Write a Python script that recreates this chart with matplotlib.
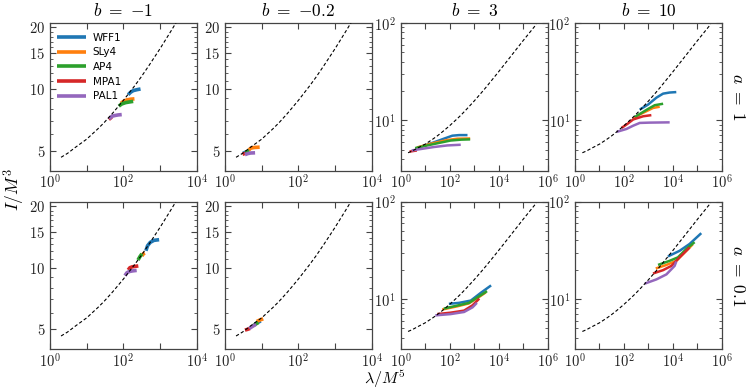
import math
import matplotlib
matplotlib.use("Agg")
import matplotlib.pyplot as plt
from matplotlib.ticker import FixedLocator, FuncFormatter, NullFormatter, NullLocator

plt.rcParams['mathtext.fontset'] = 'cm'
plt.rcParams['font.family'] = ['DejaVu Sans']

eos_names = ["WFF1", "SLy4", "AP4", "MPA1", "PAL1"]
eos_colors = ["#1f77b4", "#ff7f0e", "#2ca02c", "#d62728", "#9467bd"]
b_labels = [r"$b\ =\ {-1}$", r"$b\ =\ {-0.2}$", r"$b\ =\ 3$", r"$b\ =\ 10$"]
a_labels = [r"$a\ =\ 1$", r"$a\ =\ 0.1$"]

# GR fit curve (dashed)
lam_fit = [2, 3, 5, 10, 20, 30, 50, 100, 200, 300, 500, 1000, 2000, 3000, 5000,
           1e4, 3e4, 1e5, 3.5e5]
I_fit = [4.64, 4.85, 5.2, 5.69, 6.38, 6.86, 7.59, 8.8, 10.33, 11.4, 13.04, 15.75,
         19.24, 21.7, 25.4, 31.5, 44.7, 65.7, 97]

# Panel data: {eos: (lambda, I)}
panel_bm1_a1 = {
    "WFF1": ([135, 157, 185, 238, 293], [9.38, 9.64, 9.82, 9.93, 10.0]),
    "SLy4": ([85, 100, 125, 160, 200], [8.5, 8.7, 8.85, 8.92, 8.95]),
    "AP4": ([75, 90, 115, 150, 185], [8.25, 8.45, 8.58, 8.65, 8.7]),
    "MPA1": ([40, 44, 48], [7.1, 7.2, 7.3]),
    "PAL1": ([41, 48, 58, 72, 90], [7.15, 7.35, 7.42, 7.47, 7.5]),
}
panel_bm02_a1 = {
    "WFF1": ([3.1, 3.5, 4.0], [4.85, 4.9, 4.92]),
    "SLy4": ([4.4, 5.0, 6.2, 8.8], [5.02, 5.14, 5.18, 5.2]),
    "AP4": ([3.6, 4.1, 4.6], [4.9, 4.95, 4.98]),
    "MPA1": ([3.0, 3.3, 3.6], [4.8, 4.83, 4.86]),
    "PAL1": ([3.5, 4.2, 5.0, 6.6], [4.78, 4.84, 4.87, 4.88]),
}
panel_b3_a1 = {
    "WFF1": ([5.4, 22, 58, 129, 243, 537], [5.26, 5.92, 6.47, 6.95, 7.05, 7.05]),
    "SLy4": ([4.6, 22, 80, 207, 690], [5.26, 5.84, 6.27, 6.47, 6.51]),
    "AP4": ([3.9, 22, 110, 300, 690], [5.18, 5.7, 6.2, 6.33, 6.37]),
    "MPA1": ([2.3, 3.5, 4.6], [4.77, 4.85, 4.9]),
    "PAL1": ([2.8, 6.3, 22, 80, 284], [4.9, 5.06, 5.31, 5.52, 5.61]),
}
panel_b10_a1 = {
    "WFF1": ([444, 970, 2130, 3980, 7400, 13800], [12.9, 14.5, 17.1, 18.8, 19.3, 19.5]),
    "SLy4": ([238, 444, 830, 1550, 2900], [10.3, 11.5, 12.4, 13.4, 13.8]),
    "AP4": ([278, 520, 973, 1820, 4000], [10.8, 11.9, 13.1, 14.3, 14.8]),
    "MPA1": ([80, 140, 238, 608, 1320], [8.35, 9.2, 10.2, 11.0, 11.3]),
    "PAL1": ([50, 127, 238, 444, 1135, 7400], [7.6, 8.15, 8.8, 9.4, 9.47, 9.53]),
}
panel_bm1_a01 = {
    "WFF1": ([410, 455, 540, 680, 940], [12.1, 12.8, 13.3, 13.6, 13.7]),
    "SLy4": ([320, 350, 385], [11.4, 11.7, 11.8]),
    "AP4": ([250, 280, 320], [10.9, 11.3, 11.7]),
    "MPA1": ([135, 150, 175, 210, 255], [9.75, 10.0, 10.1, 10.15, 10.2]),
    "PAL1": ([110, 125, 145, 180, 230], [9.15, 9.45, 9.58, 9.65, 9.7]),
}
panel_bm02_a01 = {
    "WFF1": ([6.5, 7.8, 9.4], [5.3, 5.4, 5.5]),
    "SLy4": ([7.3, 9.0, 11], [5.46, 5.56, 5.63]),
    "AP4": ([5.7, 6.8, 8.1], [5.2, 5.3, 5.4]),
    "MPA1": ([3.5, 4.1, 4.8], [4.96, 5.0, 5.05]),
    "PAL1": ([4.6, 5.6, 7.0], [5.05, 5.17, 5.3]),
}
panel_b3_a01 = {
    "WFF1": ([93, 242, 736, 1900, 4950], [8.92, 9.13, 9.64, 11.6, 13.8]),
    "SLy4": ([50, 200, 600, 1600, 3000], [7.8, 8.4, 9.0, 10.5, 11.7]),
    "AP4": ([58, 207, 627, 1630, 3380], [7.97, 8.57, 9.13, 10.7, 12.05]),
    "MPA1": ([31, 110, 390, 865, 1630], [7.0, 7.24, 7.6, 8.62, 10.1]),
    "PAL1": ([26, 110, 390, 865, 1300], [6.79, 7.0, 7.36, 8.22, 9.13]),
}
panel_b10_a01 = {
    "WFF1": ([6300, 18900, 48300, 145000], [27.4, 31.3, 36.8, 47.5]),
    "SLy4": ([2000, 5430, 13800, 35500, 65000], [20.6, 22.4, 24.7, 31.3, 36.5]),
    "AP4": ([2480, 7400, 16100, 35500, 77300], [22.4, 24.7, 26.8, 32.7, 38.4]),
    "MPA1": ([1550, 3980, 8700, 18900, 48300], [18.3, 19.8, 21.9, 26.8, 33.9]),
    "PAL1": ([712, 2120, 5430, 11800, 13800], [14.4, 15.9, 17.9, 21.9, 24.3]),
}

panels = [[panel_bm1_a1, panel_bm02_a1, panel_b3_a1, panel_b10_a1],
          [panel_bm1_a01, panel_bm02_a01, panel_b3_a01, panel_b10_a01]]

W, H = 747, 390
fig = plt.figure(figsize=(W / 100, H / 100), dpi=100)

col_left_px = [50, 225, 400.7, 575]
ax_w_px = 146.8
row_top_px = [23, 201.7]
ax_h_px = 147.5

frame_col = "#444444"


def dec_fmt(v, pos):
    e = int(round(math.log10(v)))
    return r"$10^{%d}$" % e


for r in range(2):
    for c in range(4):
        left = col_left_px[c] / W
        bottom = 1 - (row_top_px[r] + ax_h_px) / H
        ax = fig.add_axes([left, bottom, ax_w_px / W, ax_h_px / H])
        ax.set_xscale("log")
        ax.set_yscale("log")
        lw = 2.6 if c < 2 else 1.8
        data = panels[r][c]
        for name, col in zip(eos_names, eos_colors):
            lx, ly = data[name]
            ax.plot(lx, ly, color=col, lw=lw, label=name, solid_capstyle='butt')
        ax.plot(lam_fit, I_fit, color="black", lw=0.8, ls=(0, (3, 2)), zorder=5)

        if c < 2:
            ax.set_xlim(1, 1e4)
            ax.set_ylim(4.0, 21.0)
            ax.xaxis.set_major_locator(FixedLocator([1, 10, 100, 1000, 1e4]))
            ax.xaxis.set_major_formatter(FuncFormatter(
                lambda v, p: dec_fmt(v, p) if v in (1, 100, 1e4) else ""))
            ax.yaxis.set_major_locator(FixedLocator([5, 10, 15, 20]))
            ax.yaxis.set_major_formatter(FuncFormatter(lambda v, p: r"$%d$" % int(round(v))))
            ax.yaxis.set_minor_locator(FixedLocator([4, 6, 7, 8, 9, 11, 12, 13, 14, 16, 17, 18, 19, 21]))
        else:
            ax.set_xlim(1, 1e6)
            ax.set_ylim(3.05, 100)
            ax.xaxis.set_major_locator(FixedLocator([1, 10, 100, 1e3, 1e4, 1e5, 1e6]))
            ax.xaxis.set_major_formatter(FuncFormatter(
                lambda v, p: dec_fmt(v, p) if v in (1, 100, 1e4, 1e6) else ""))
            ax.yaxis.set_major_locator(FixedLocator([10, 100]))
            ax.yaxis.set_major_formatter(FuncFormatter(dec_fmt))
            ax.yaxis.set_minor_locator(FixedLocator([4, 5, 6, 7, 8, 9, 20, 30, 40, 50, 60, 70, 80, 90]))
        ax.xaxis.set_minor_locator(NullLocator())
        ax.yaxis.set_minor_formatter(NullFormatter())
        ax.tick_params(which="both", direction="in", top=True, right=True,
                       colors=frame_col, labelcolor="#222222", labelsize=10.5)
        ax.tick_params(which="major", length=4, width=0.8)
        ax.tick_params(which="minor", length=2, width=0.6)
        ax.tick_params(axis="x", which="major", pad=2.0)
        for s in ax.spines.values():
            s.set_color(frame_col)
            s.set_linewidth(0.9)

        if r == 0:
            ax.set_title(b_labels[c], fontsize=12.5, pad=5)
        if r == 0 and c == 0:
            ax.legend(loc="upper left", frameon=False, fontsize=7.5,
                      handlelength=2.8, handletextpad=0.6, labelspacing=0.45,
                      borderaxespad=0.3, bbox_to_anchor=(0.0, 0.985))

for r in range(2):
    yc = 1 - (row_top_px[r] + ax_h_px / 2) / H
    fig.text(738 / W, yc, a_labels[r], rotation=270, ha="center", va="center", fontsize=12.5)

fig.text(14 / W, 1 - 190 / H, r"$I/M^3$", rotation=90, ha="center", va="center", fontsize=12.5)
fig.text(385 / W, 1 - 368 / H, r"$\lambda/M^5$", ha="center", va="top", fontsize=11.5)

fig.savefig("out.png", dpi=100)
